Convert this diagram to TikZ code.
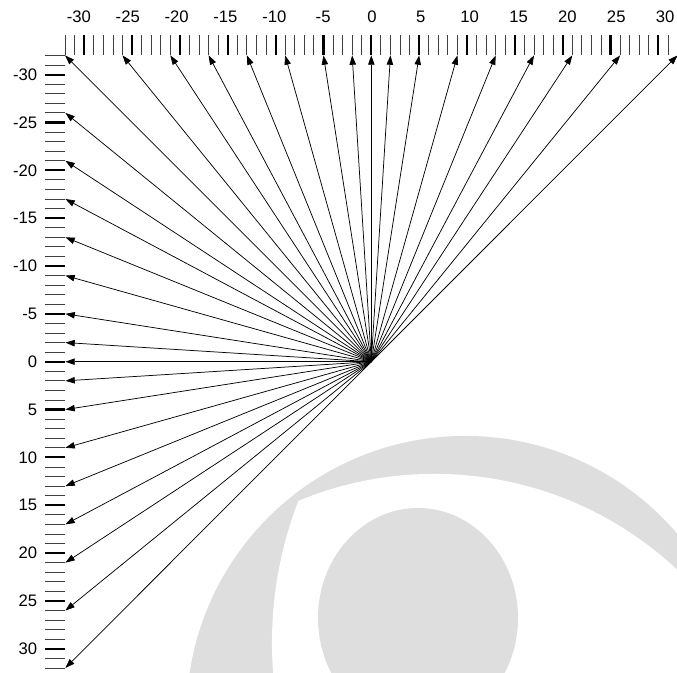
\documentclass[tikz,border=0pt]{standalone}
\usepackage{fontspec}
\setmainfont{Liberation Sans}
\usetikzlibrary{arrows.meta}
\tikzset{
  ticktn/.style={line width=0.6pt, black!75},
  tickthk/.style={line width=1.6pt, black},
  ray/.style={line width=0.55pt, -{Triangle[length=7pt,width=4.8pt]}},
  lbl/.style={font=\fontsize{12.5}{14}\selectfont, inner sep=0pt},
  wm/.style={fill=black!13}
}
\begin{document}
\begin{tikzpicture}[x=0.75pt,y=-0.75pt]
\useasboundingbox (0,0) rectangle (677,673);
% faint background watermark
\fill[wm] (465.2,714.6) circle[radius=209pt];
\begin{scope}
  \clip (434.4,829.2) circle[radius=266.5pt];
  \fill[white] (663.3,642.6) circle[radius=293.5pt];
\end{scope}
\fill[wm] (418,618) ellipse[x radius=75pt, y radius=82.5pt];

\def\ox{371.3}\def\oy{361.7}\def\un{9.57}
\coordinate (O) at (\ox,\oy);

% top ruler
\foreach \v in {-32,...,31}{
  \pgfmathsetmacro\xx{\ox+\un*\v}
  \pgfmathtruncatemacro\m{mod(abs(\v),5)}
  \ifnum\m=0
    \draw[tickthk] (\xx,55.4) -- (\xx,35.4);
  \else
    \draw[ticktn] (\xx,55.4) -- (\xx,35.4);
  \fi
}
% left ruler
\foreach \v in {-32,...,32}{
  \pgfmathsetmacro\yy{\oy+\un*\v}
  \pgfmathtruncatemacro\m{mod(abs(\v),5)}
  \ifnum\m=0
    \draw[tickthk] (45.4,\yy) -- (65.4,\yy);
  \else
    \draw[ticktn] (45.4,\yy) -- (65.4,\yy);
  \fi
}
% labels
\foreach \v in {-30,-25,...,30}{
  \pgfmathtruncatemacro\k{\v+40}
  \node[lbl] (tl\k) at ({372+9.77*\v},16.6) {\v};
  \node[lbl,anchor=east] (ll\k) at (37.5,{\oy+\un*\v}) {\v};
}
% rays to top ruler
\foreach \v in {-32,-26,-21,-17,-13,-9,-5,-2,0,2,5,9,13,17,21,26,32}{
  \pgfmathtruncatemacro\k{\v+40}
  \coordinate (T\k) at ({\ox+\un*\v},55.4);
  \draw[ray] (O) -- (T\k);
}
% rays to left ruler
\foreach \v in {-26,-21,-17,-13,-9,-5,-2,0,2,5,9,13,17,21,26,32}{
  \pgfmathtruncatemacro\k{\v+40}
  \coordinate (L\k) at (65.4,{\oy+\un*\v});
  \draw[ray] (O) -- (L\k);
}
\end{tikzpicture}
\end{document}
